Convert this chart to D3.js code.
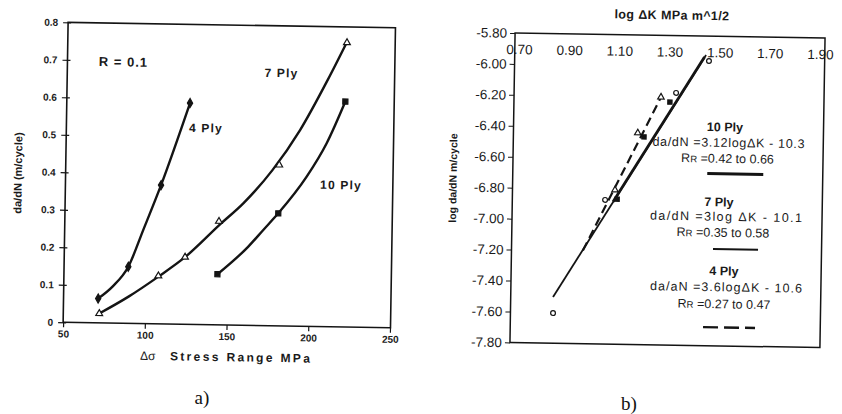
<!DOCTYPE html>
<html><head><meta charset="utf-8">
<script src="https://cdn.jsdelivr.net/npm/d3@7/dist/d3.min.js"></script>
<style>body{margin:0;background:#fff} svg{display:block}</style>
</head><body>
<svg id="c" width="842" height="414"></svg>
<script>
// ---------- panel a) data ----------
const stressTicks = [50, 100, 150, 200, 250];
const rateTicks = [0, 0.1, 0.2, 0.3, 0.4, 0.5, 0.6, 0.7, 0.8];
const ply4Stress = [71.2, 89.3, 108.5, 125.4];
const ply4Rate = [0.065, 0.151, 0.370, 0.590];
const ply7Stress = [72.0, 107.8, 123.9, 144.3, 180.6, 220.8];
const ply7Rate = [0.025, 0.128, 0.179, 0.276, 0.429, 0.758];
const ply10Stress = [143.9, 180.5, 220.4];
const ply10Rate = [0.135, 0.300, 0.601];
// trend curves
const fit4Stress = [71.2, 80, 89.3, 98.1, 108.5, 125.4];
const fit4Rate = [0.065, 0.098, 0.151, 0.250, 0.370, 0.590];
const fit7Stress = [72, 90, 107.8, 123.9, 145, 159, 176.5, 193, 209.4, 220.8];
const fit7Rate = [0.025, 0.072, 0.126, 0.179, 0.268, 0.325, 0.415, 0.523, 0.658, 0.760];
const fit10Stress = [143.9, 162.5, 171.5, 180.5, 197.5, 209.4, 220.4];
const fit10Rate = [0.135, 0.210, 0.255, 0.300, 0.399, 0.489, 0.601];

// ---------- panel b) data ----------
const logKTicks = [0.70, 0.90, 1.10, 1.30, 1.50, 1.70, 1.90];
const logRateTicks = [-5.80, -6.00, -6.20, -6.40, -6.60, -6.80, -7.00, -7.20, -7.40, -7.60, -7.80];
const circLogK = [0.853, 1.053, 1.329, 1.458];
const circLogRate = [-7.606, -6.869, -6.170, -5.960];
const triLogK = [1.092, 1.179, 1.269];
const triLogRate = [-6.804, -6.433, -6.199];
const sqLogK = [1.101, 1.204, 1.305];
const sqLogRate = [-6.863, -6.458, -6.230];
const line7LogK = [0.852, 1.446];
const line7LogRate = [-7.502, -5.922];
const line10LogK = [1.085, 1.440];
const line10LogRate = [-6.880, -5.935];
const line4LogK = [0.968, 1.269];
const line4LogRate = [-7.198, -6.200];

const F = "Arial, 'Liberation Sans', sans-serif";
const INK = "#141414";
const svg = d3.select("#c");
const zip = (a, b) => a.map((v, i) => [v, b[i]]);

// ================= panel a =================
const gA = svg.append("g").attr("transform", "rotate(0.95,228,175)");
const xA = d3.scaleLinear().domain([50, 250]).range([65.6, 392.5]);
const yA = d3.scaleLinear().domain([0, 0.8]).range([325, 25]);

gA.append("rect")
  .attr("x", xA(50)).attr("y", yA(0.8))
  .attr("width", xA(250) - xA(50) + 0.5).attr("height", yA(0) - yA(0.8))
  .attr("fill", "none").attr("stroke", INK).attr("stroke-width", 1.6);

const yaxA = gA.append("g").attr("transform", `translate(${xA(50)},0)`)
  .call(d3.axisLeft(yA).tickValues(rateTicks).tickSize(5).tickPadding(5)
    .tickFormat(d => d === 0 ? "0" : d.toFixed(1)));
yaxA.select(".domain").remove();
yaxA.selectAll(".tick line").attr("x1", 3).attr("stroke", INK).attr("stroke-width", 1.2);
yaxA.selectAll("text").attr("font-family", F).attr("font-weight", "bold").attr("font-size", 10).attr("fill", "#222");

const xaxA = gA.append("g").attr("transform", `translate(0,${yA(0)})`)
  .call(d3.axisBottom(xA).tickValues(stressTicks).tickSize(5).tickPadding(3));
xaxA.select(".domain").remove();
xaxA.selectAll(".tick line").attr("stroke", INK).attr("stroke-width", 1.2);
xaxA.selectAll("text").attr("font-family", F).attr("font-weight", "bold").attr("font-size", 10).attr("fill", "#222");

const curveA = d3.line().x(d => xA(d[0])).y(d => yA(d[1])).curve(d3.curveMonotoneX);
[[fit4Stress, fit4Rate], [fit7Stress, fit7Rate], [fit10Stress, fit10Rate]].forEach(([s, r]) => {
  gA.append("path").attr("d", curveA(zip(s, r)))
    .attr("fill", "none").attr("stroke", INK).attr("stroke-width", 2.4);
});

function markers(g, xs, ys, data, type, size, filled) {
  g.selectAll(null).data(data).enter().append("path")
    .attr("transform", d => `translate(${xs(d[0])},${ys(d[1])})`)
    .attr("d", d3.symbol().type(type).size(size))
    .attr("fill", filled ? INK : "#fff").attr("stroke", INK).attr("stroke-width", 1.2);
}
markers(gA, xA, yA, zip(ply4Stress, ply4Rate), d3.symbolDiamond, 24, true);
markers(gA, xA, yA, zip(ply7Stress, ply7Rate), d3.symbolTriangle, 20, false);
markers(gA, xA, yA, zip(ply10Stress, ply10Rate), d3.symbolSquare, 26, true);

function label(g, x, y, txt, size, weight, anchor, ls) {
  return g.append("text").attr("x", x).attr("y", y).attr("dy", "0.35em")
    .attr("text-anchor", anchor || "middle").attr("font-family", F)
    .attr("font-size", size).attr("font-weight", weight || "bold")
    .attr("letter-spacing", ls || 0).attr("fill", "#1a1a1a").text(txt);
}
label(gA, 121.6, 63.7, "R = 0.1", 13, "bold", "middle", 1);
label(gA, 279.8, 72.1, "7 Ply", 12, "bold", "middle", 1.2);
label(gA, 205.2, 128.4, "4 Ply", 12, "bold", "middle", 1.2);
label(gA, 341.2, 183.1, "10 Ply", 12, "bold", "middle", 1.2);
label(gA, 143, 357, "Δσ", 12, "normal", "start");
label(gA, 173, 357, "Stress Range MPa", 12, "bold", "start")
  .attr("textLength", 140).attr("lengthAdjust", "spacing");
gA.append("text").attr("transform", "translate(18,176.5) rotate(-90)")
  .attr("dy", "0.35em").attr("text-anchor", "middle").attr("font-family", F)
  .attr("font-size", 11).attr("font-weight", "bold").attr("fill", "#1a1a1a")
  .text("da/dN (m/cycle)");

svg.append("text").attr("x", 202).attr("y", 397).attr("dy", "0.35em")
  .attr("text-anchor", "middle").attr("font-family", "'Liberation Serif', 'Times New Roman', serif")
  .attr("font-size", 19).attr("fill", "#111").text("a)");

// ================= panel b =================
const gB = svg.append("g").attr("transform", "rotate(0.95,667,190)");
const xB = d3.scaleLinear().domain([0.7, 1.9]).range([516.7, 817.7]);
const yB = d3.scaleLinear().domain([-5.8, -7.8]).range([35.5, 345]);

gB.append("rect")
  .attr("x", 512.5).attr("y", yB(-5.8))
  .attr("width", 310).attr("height", yB(-7.8) - yB(-5.8))
  .attr("fill", "none").attr("stroke", INK).attr("stroke-width", 1.5);

const yaxB = gB.append("g").attr("transform", "translate(512.5,0)")
  .call(d3.axisLeft(yB).tickValues(logRateTicks).tickSize(5).tickPadding(3)
    .tickFormat(d => d.toFixed(2)));
yaxB.select(".domain").remove();
yaxB.selectAll(".tick line").attr("stroke", INK).attr("stroke-width", 1);
yaxB.selectAll("text").attr("font-family", F).attr("font-size", 13.5).attr("fill", "#1a1a1a");

const xaxB = gB.append("g").attr("transform", `translate(0,${yB(-5.8)})`)
  .call(d3.axisBottom(xB).tickValues(logKTicks).tickSize(0).tickPadding(11.5)
    .tickFormat(d => d.toFixed(2)));
xaxB.select(".domain").remove();
xaxB.selectAll("text").attr("font-family", F).attr("font-size", 13.5).attr("fill", "#1a1a1a");

const lineB = d3.line().x(d => xB(d[0])).y(d => yB(d[1]));
gB.append("path").attr("d", lineB(zip(line7LogK, line7LogRate)))
  .attr("fill", "none").attr("stroke", INK).attr("stroke-width", 1.8);
gB.append("path").attr("d", lineB(zip(line10LogK, line10LogRate)))
  .attr("fill", "none").attr("stroke", INK).attr("stroke-width", 2.8);
gB.append("path").attr("d", lineB(zip(line4LogK, line4LogRate)))
  .attr("fill", "none").attr("stroke", INK).attr("stroke-width", 2.2)
  .attr("stroke-dasharray", "9,5");

markers(gB, xB, yB, zip(circLogK, circLogRate), d3.symbolCircle, 18, false);
markers(gB, xB, yB, zip(triLogK, triLogRate), d3.symbolTriangle, 18, false);
markers(gB, xB, yB, zip(sqLogK, sqLogRate), d3.symbolSquare, 18, true);

label(gB, 669.1, 14.9, "log ΔK MPa m^1/2", 12.5, "bold", "middle", 0.4);
gB.append("text").attr("transform", "translate(452.8,181.6) rotate(-90)")
  .attr("dy", "0.35em").attr("text-anchor", "middle").attr("font-family", F)
  .attr("font-size", 10.5).attr("font-weight", "bold").attr("fill", "#1a1a1a")
  .text("log da/dN m/cycle");

function rr(g, x, y, rest) {
  const t = g.append("text").attr("x", x).attr("y", y).attr("dy", "0.35em")
    .attr("text-anchor", "middle").attr("font-family", F).attr("font-size", 12.5).attr("fill", "#1a1a1a");
  t.append("tspan").text("R");
  t.append("tspan").attr("font-size", 9.5).text("R");
  t.append("tspan").text(" " + rest);
  return t;
}
function eq(g, x, y, txt) {
  return label(g, x, y, txt, 12.5, "normal").attr("textLength", 152).attr("lengthAdjust", "spacing");
}
label(gB, 723.9, 126, "10 Ply", 12.5, "bold");
eq(gB, 727.7, 141.5, "da/dN =3.12logΔK - 10.3");
rr(gB, 727, 157.5, "=0.42 to 0.66");
label(gB, 719.2, 201.1, "7 Ply", 12.5, "bold");
eq(gB, 726.4, 215.5, "da/dN =3log ΔK - 10.1");
rr(gB, 723.7, 231.5, "=0.35 to  0.58");
label(gB, 725.3, 270, "4 Ply", 12.5, "bold");
eq(gB, 727.6, 286, "da/aN =3.6logΔK - 10.6");
rr(gB, 725.9, 303, "=0.27 to 0.47");

const keyLine = d3.line();
gB.append("path").attr("d", keyLine([[707, 172.9], [763, 172.9]])).attr("stroke", INK).attr("stroke-width", 3);
gB.append("path").attr("d", keyLine([[714, 248.3], [759, 248.3]])).attr("stroke", INK).attr("stroke-width", 2);
gB.append("path").attr("d", keyLine([[705.3, 326.5], [757.3, 326.5]])).attr("stroke", INK).attr("stroke-width", 2.4)
  .attr("stroke-dasharray", "15,6");

svg.append("text").attr("x", 629).attr("y", 403).attr("dy", "0.35em")
  .attr("text-anchor", "middle").attr("font-family", "'Liberation Serif', 'Times New Roman', serif")
  .attr("font-size", 19).attr("fill", "#111").text("b)");
</script>
</body></html>
